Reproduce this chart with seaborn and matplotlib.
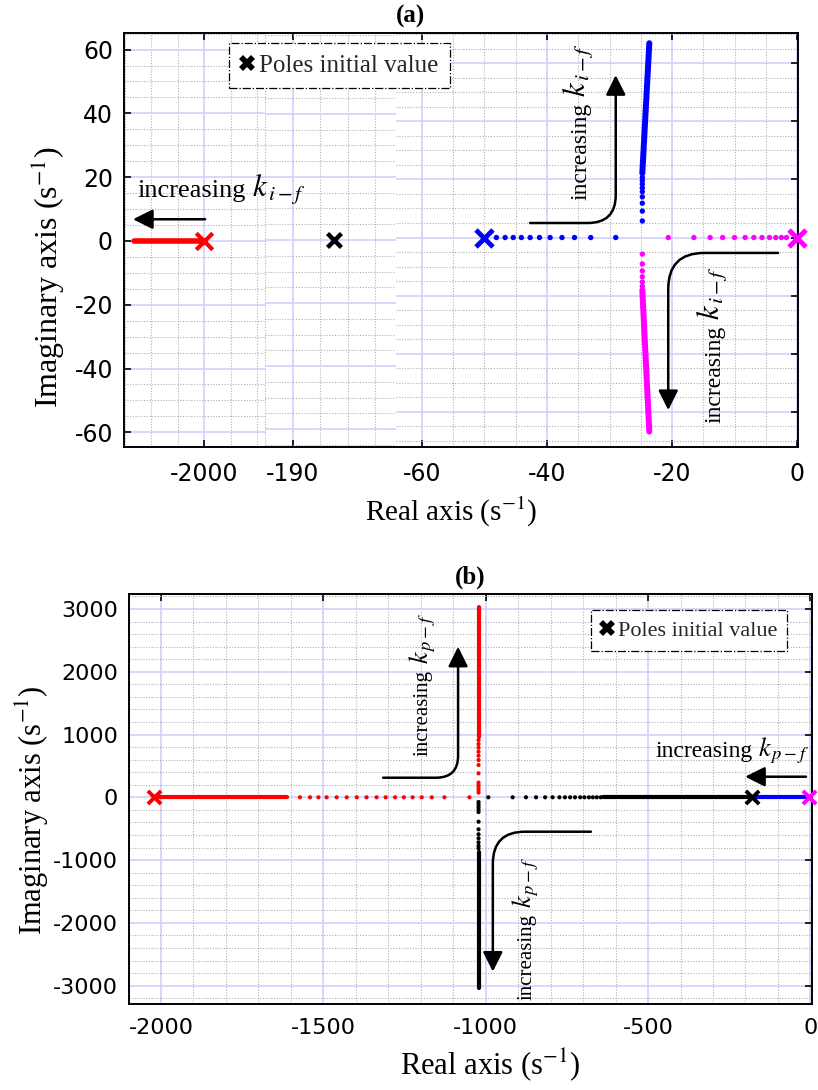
import matplotlib
matplotlib.use("Agg")
import matplotlib.pyplot as plt
from matplotlib.lines import Line2D
from matplotlib.ticker import MultipleLocator, FixedLocator
import seaborn as sns

# ---------------- panel (a): root locus for increasing k_i-f ----------------
# segment 1 (around -2000)
a_red_pole = [-2000.0]
a_red_line_x = [-2026.4, -2000.0]
# segment 2 (around -190)
a_black_pole = [-182.5]
# segment 3 (-60 .. 0)
a_blue_pole = [-50.0]
a_magenta_pole = [0.0]
a_blue_real_x = [-48.1, -46.7, -45.4, -44.1, -42.7, -41.2, -39.5, -37.6, -35.6, -33.0, -29.0]
a_magenta_real_x = [-20.6, -16.5, -13.9, -11.9, -10.0, -8.3, -6.9, -5.6, -4.4, -3.4, -2.5, -1.7]
a_branch_x = -24.75
a_blue_up_y = [5.7, 9.1, 11.8, 14.0, 15.8, 17.1, 18.4, 19.6, 20.7]
a_blue_up_line_x = [-24.75, -23.63]
a_blue_up_line_y = [22.1, 66.9]
a_magenta_dn_y = [-5.7, -9.1, -11.5, -13.5, -15.3, -16.8]
a_magenta_dn_line_x = [-24.75, -23.63]
a_magenta_dn_line_y = [-18.1, -66.8]

# ---------------- panel (b): root locus for increasing k_p-f ----------------
b_red_pole = [-2022.0]
b_black_pole = [-181.0]
b_magenta_pole = [-3.0]
b_red_line_x = [-2022.0, -1613.0]
b_red_real_x = [-1572, -1541, -1515, -1490, -1459, -1428, -1397, -1367, -1336,
                -1308, -1279, -1252, -1225, -1197, -1166, -1127, -1050]
b_black_line_x = [-640.0, -181.0]
b_black_real_x = [-992, -917, -876, -845, -817, -794, -773, -756, -740, -725,
                  -709, -696, -682, -670, -658, -646]
b_blue_line_x = [-181.0, -3.0]
b_branch_x = -1022.0
b_red_up_y = [75, 115, 155, 195, 235, 382, 514, 594, 663, 726, 790, 849, 913]
b_red_up_line_y = [965, 3027]
b_black_dn_y = [-75, -115, -155, -195, -235, -389, -510, -589, -653, -717, -771, -813]
b_black_dn_line_y = [-867, -3043]

W, H = 818, 1090
SERIF = ["Liberation Serif", "DejaVu Serif"]

sns.set_style("white")
plt.rcParams["font.family"] = ["DejaVu Sans"]
plt.rcParams["mathtext.fontset"] = "stix"
plt.rcParams["axes.unicode_minus"] = False


def fx(px):
    return px / W


def fy(py):
    return 1 - py / H


def box(l, t, r, b):
    return [l / W, 1 - b / H, (r - l) / W, (b - t) / H]


def style_axes(ax, xpad, ypad, size):
    ax.set_axisbelow(True)
    ax.grid(which="major", color="#d0d0ff", lw=1.2, ls="-")
    ax.grid(which="minor", color="#b0b0b0", lw=0.8, ls=(0, (1, 1.5)))
    for s in ax.spines.values():
        s.set_linewidth(1.4)
        s.set_color("k")
    ax.tick_params(which="major", direction="in", length=5, width=1.2,
                   labelsize=size, colors="k")
    ax.tick_params(axis="x", which="major", pad=xpad)
    ax.tick_params(axis="y", which="major", pad=ypad)
    ax.tick_params(which="minor", length=0)


def line(ax, xs, ys, color, lw):
    sns.lineplot(x=xs, y=ys, color=color, lw=lw, ax=ax, estimator=None,
                 sort=False, zorder=3)


def dots(ax, xs, ys, color, s):
    sns.scatterplot(x=xs, y=ys, color=color, s=s, edgecolor="none", ax=ax,
                    zorder=4)


def pole(ax, xs, color, s, lw):
    sns.scatterplot(x=xs, y=[0] * len(xs), marker="x", color=color, s=s,
                    linewidth=lw, ax=ax, zorder=5, clip_on=False)


def arrow(ax, tail, head, rad=None):
    props = dict(arrowstyle="-|>", lw=1.8, color="k", shrinkA=0, shrinkB=0,
                 mutation_scale=30)
    if rad is not None:
        props["connectionstyle"] = "angle,angleA=0,angleB=90,rad=%d" % rad
    ax.annotate("", xy=head, xytext=tail, arrowprops=props)


def gain_label(x, y_word, y_k, word_size, k_size, sub, rot):
    # "increasing" + k with subscript, placed in figure pixels
    kw = dict(family=SERIF, color="k", rotation=rot, rotation_mode="anchor",
              ha="left", va="baseline")
    fig.text(fx(x), fy(y_word), "increasing", fontsize=word_size, **kw)
    if rot == 0:
        fig.text(fx(y_k), fy(y_word), r"$k_{\,%s}$" % sub, fontsize=k_size, **kw)
    else:
        fig.text(fx(x), fy(y_k), r"$k_{\,%s}$" % sub, fontsize=k_size, **kw)


fig = plt.figure(figsize=(W / 100, H / 100), dpi=100)

# ===================== panel (a): broken real axis =====================
ax1 = fig.add_axes(box(124, 33, 265, 447))
ax2 = fig.add_axes(box(265, 33, 396, 447))
ax3 = fig.add_axes(box(396, 33, 798, 447))

ax1.set_xlim(-2030.2, -1977.0)
ax1.set_ylim(-64.6, 65.2)
ax2.set_xlim(-195.04, -171.2)
ax2.set_ylim(-65.7, 65.7)
ax3.set_xlim(-64.16, 0.16)
ax3.set_ylim(-72.1, 70.4)

ax1.xaxis.set_major_locator(FixedLocator([-2000]))
ax1.xaxis.set_minor_locator(MultipleLocator(10))
ax2.xaxis.set_major_locator(FixedLocator([-190]))
ax2.xaxis.set_minor_locator(MultipleLocator(5))
ax3.xaxis.set_major_locator(FixedLocator([-60, -40, -20, 0]))
ax3.xaxis.set_minor_locator(MultipleLocator(5))
for ax in (ax1, ax2, ax3):
    ax.yaxis.set_major_locator(FixedLocator([-60, -40, -20, 0, 20, 40, 60]))
    ax.yaxis.set_minor_locator(MultipleLocator(5))
    style_axes(ax, 11, 8, 17)
    ax.tick_params(axis="x", top=True, bottom=True)

ax1.spines["right"].set_visible(False)
ax1.tick_params(axis="y", left=True, right=False, labelleft=True)
ax2.spines["left"].set_visible(False)
ax2.spines["right"].set_visible(False)
ax2.tick_params(axis="y", left=False, right=False, labelleft=False)
ax3.spines["left"].set_visible(False)
ax3.tick_params(axis="y", left=False, right=True, labelleft=False)

line(ax1, a_red_line_x, [0] * len(a_red_line_x), "red", 4)
pole(ax1, a_red_pole, "red", 140, 3)
pole(ax2, a_black_pole, "black", 100, 3.2)

dots(ax3, a_blue_real_x, [0] * len(a_blue_real_x), "blue", 15)
dots(ax3, a_magenta_real_x, [0] * len(a_magenta_real_x), "magenta", 15)
dots(ax3, [a_branch_x] * len(a_blue_up_y), a_blue_up_y, "blue", 15)
dots(ax3, [a_branch_x] * len(a_magenta_dn_y), a_magenta_dn_y, "magenta", 15)
line(ax3, a_blue_up_line_x, a_blue_up_line_y, "blue", 4.3)
line(ax3, a_magenta_dn_line_x, a_magenta_dn_line_y, "magenta", 4.3)
pole(ax3, a_blue_pole, "blue", 150, 3.5)
pole(ax3, a_magenta_pole, "magenta", 150, 3.5)
for ax in (ax1, ax2, ax3):
    ax.set_xlabel("")
    ax.set_ylabel("")

arrow(ax1, (-1999.6, 6.8), (-2026.8, 6.8))
arrow(ax3, (-42.7, 5.0), (-29.0, 55.9), rad=28)
arrow(ax3, (-3.04, -5.3), (-20.6, -59.4), rad=36)

# ===================== panel (b) =====================
axb = fig.add_axes(box(128.5, 594, 811.7, 1004))
axb.set_xlim(-2100, 4)
axb.set_ylim(-3293, 3239)
axb.xaxis.set_major_locator(MultipleLocator(500))
axb.xaxis.set_minor_locator(MultipleLocator(100))
axb.yaxis.set_major_locator(MultipleLocator(1000))
axb.yaxis.set_minor_locator(MultipleLocator(200))
style_axes(axb, 10, 7.5, 16)
axb.tick_params(which="major", top=True, right=True)

line(axb, b_red_line_x, [0] * len(b_red_line_x), "red", 3)
dots(axb, b_red_real_x, [0] * len(b_red_real_x), "red", 9)
line(axb, b_black_line_x, [0] * len(b_black_line_x), "black", 3)
dots(axb, b_black_real_x, [0] * len(b_black_real_x), "black", 9)
line(axb, b_blue_line_x, [0] * len(b_blue_line_x), "blue", 3)
dots(axb, [b_branch_x] * len(b_red_up_y), b_red_up_y, "red", 9)
line(axb, [b_branch_x] * 2, b_red_up_line_y, "red", 3)
dots(axb, [b_branch_x] * len(b_black_dn_y), b_black_dn_y, "black", 9)
line(axb, [b_branch_x] * 2, b_black_dn_line_y, "black", 3)
pole(axb, b_red_pole, "red", 90, 2.8)
pole(axb, b_black_pole, "black", 90, 2.8)
pole(axb, b_magenta_pole, "magenta", 90, 2.8)
axb.set_xlabel("")
axb.set_ylabel("")

arrow(axb, (-1316, 312), (-1085, 2399), rad=22)
arrow(axb, (-676, -548), (-978, -2778), rad=32)
arrow(axb, (-13.6, 328), (-201, 328))

# ===================== texts =====================
txt = dict(family=SERIF, color="k")
fig.text(fx(411), fy(16), "(a)", ha="center", va="center", fontsize=18,
         fontweight="bold", **txt)
fig.text(fx(470), fy(577), "(b)", ha="center", va="center", fontsize=18,
         fontweight="bold", **txt)

fig.text(fx(451), fy(512), "Real axis (s$^{-1}$)", ha="center", va="center",
         fontsize=21, **txt)
fig.text(fx(48), fy(277), "Imaginary axis (s$^{-1}$)", ha="center",
         va="center", rotation=90, fontsize=23, **txt)
fig.text(fx(490), fy(1065), "Real axis (s$^{-1}$)", ha="center", va="center",
         fontsize=22, **txt)
fig.text(fx(32), fy(810), "Imaginary axis (s$^{-1}$)", ha="center",
         va="center", rotation=90, fontsize=22, **txt)

gain_label(137, 196.7, 252, 19, 22, "i-f", 0)
gain_label(586, 200, 97, 17, 22, "i-f", 90)
gain_label(720, 423, 320, 17, 22, "i-f", 90)
gain_label(428, 755.7, 664, 15, 19, "p-f", 90)
gain_label(531.7, 1000, 908, 15, 19, "p-f", 90)
gain_label(656, 756.7, 758, 17, 19, "p-f", 0)

# ===================== legends =====================
handle = Line2D([0], [0], marker="X", color="k", ls="none", markersize=12,
                markeredgewidth=0)
for (lx, ly, size) in [(229, 43, 18), (591, 610, 16)]:
    leg = fig.legend(handles=[handle], labels=["Poles initial value"],
                     loc="upper left", bbox_to_anchor=(fx(lx), fy(ly)),
                     prop={"family": SERIF, "size": size}, frameon=True,
                     fancybox=False, edgecolor="k", framealpha=1,
                     borderpad=0.45, handlelength=0.5, handletextpad=0.25,
                     borderaxespad=0)
    leg.get_frame().set_linestyle("-.")
    leg.get_frame().set_linewidth(0.9)

fig.savefig("out.png", dpi=100)
